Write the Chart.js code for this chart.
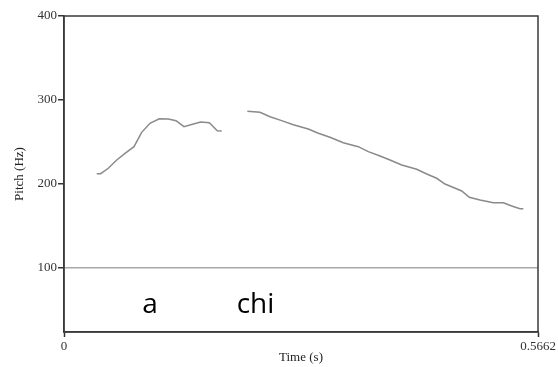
<!DOCTYPE html>
<html>
<head>
<meta charset="utf-8">
<script src="https://cdn.jsdelivr.net/npm/chart.js@4"></script>
<style>
  html, body { margin: 0; padding: 0; background: #fff; }
  #wrap { width: 558px; height: 367px; }
</style>
</head>
<body>
<div id="wrap"><canvas id="c" width="558" height="367"></canvas></div>
<script>
// ---- data ----
const seg1Time  = [0.0391,0.0438,0.0529,0.0630,0.0729,0.0836,0.0928,0.1027,0.1138,0.1246,0.1338,0.1433,0.1545,0.1633,0.1736,0.1831,0.1884];
const seg1Pitch = [212.3,212.3,218.7,228.6,236.5,244.4,261.5,272.3,277.7,277.4,275.4,268.2,271.4,273.8,273.0,263.5,263.1];
const seg2Time  = [0.2190,0.2341,0.2461,0.2600,0.2739,0.2918,0.3038,0.3177,0.3336,0.3515,0.3635,0.3775,0.3894,0.4034,0.4213,0.4333,0.4452,0.4551,0.4631,0.4751,0.4841,0.4969,0.5128,0.5248,0.5348,0.5447,0.5487];
const seg2Pitch = [286.5,285.4,280.1,275.4,270.6,265.5,260.4,255.6,249.2,244.4,238.5,233.3,228.6,222.6,217.5,211.9,206.8,200.0,196.8,191.7,184.2,181.0,177.7,177.7,173.8,170.6,170.6];
const xTickValues = [0, 0.5662];
const xTickLabels = ['0', '0.5662'];
const yTickValues = [100, 200, 300, 400];
const yTickLabels = ['100', '200', '300', '400'];
const syllables   = ['a', 'chi'];
const syllableTime = [0.1027, 0.2287];
const syllableHz   = [46.4, 46.4];

const toPts = (xs, ys) => xs.map((x, i) => ({ x: x, y: ys[i] }));

const frame = {
  id: 'frame',
  afterDatasetsDraw(chart) {
    const a = chart.chartArea, ctx = chart.ctx;
    ctx.save();
    ctx.strokeStyle = '#3a3a3a';
    ctx.lineWidth = 1.5;
    ctx.strokeRect(a.left, a.top, a.right - a.left, a.bottom - a.top);
    // syllable labels
    ctx.fillStyle = '#000';
    ctx.font = '28px "Open Sans"';
    ctx.textAlign = 'center';
    ctx.textBaseline = 'alphabetic';
    const xs = chart.scales.x, ys = chart.scales.y;
    syllables.forEach((s, i) => {
      ctx.fillText(s, xs.getPixelForValue(syllableTime[i]), ys.getPixelForValue(syllableHz[i]));
    });
    ctx.restore();
  }
};

const serif = { family: '"Liberation Serif", "Times New Roman", serif', size: 13 };

new Chart(document.getElementById('c'), {
  type: 'scatter',
  data: {
    datasets: [
      { data: toPts(seg1Time, seg1Pitch), showLine: true, borderColor: '#8a8a8a', borderWidth: 1.5, pointRadius: 0, tension: 0 },
      { data: toPts(seg2Time, seg2Pitch), showLine: true, borderColor: '#8a8a8a', borderWidth: 1.5, pointRadius: 0, tension: 0 }
    ]
  },
  options: {
    responsive: false,
    animation: false,
    devicePixelRatio: 1,
    layout: { padding: { left: 0, top: 16, right: 20, bottom: 0 } },
    plugins: { legend: { display: false }, tooltip: { enabled: false } },
    scales: {
      x: {
        type: 'linear', min: 0, max: 0.5662,
        afterBuildTicks: s => { s.ticks = xTickValues.map(v => ({ value: v })); },
        afterFit: s => { s.height = 35; },
        ticks: { callback: (v, i) => xTickLabels[i], color: '#333', font: serif, padding: 2, maxRotation: 0, autoSkip: false },
        grid: { drawOnChartArea: false, drawTicks: true, tickLength: 5, tickColor: '#333', tickWidth: 1.5 },
        border: { display: true, color: '#3a3a3a', width: 1.5 },
        title: { display: true, text: 'Time (s)', color: '#222', font: serif, padding: { top: 0, bottom: 2 } }
      },
      y: {
        type: 'linear', min: 23.8, max: 400,
        afterBuildTicks: s => { s.ticks = yTickValues.map(v => ({ value: v })); },
        afterFit: s => { s.width = 64; },
        ticks: { callback: (v, i) => yTickLabels[i], color: '#333', font: serif, padding: 1 },
        grid: {
          drawOnChartArea: true, drawTicks: true, tickLength: 6,
          color: c => (c.tick && c.tick.value === 100) ? '#a8a8a8' : 'rgba(0,0,0,0)',
          lineWidth: 1.5, tickColor: '#333', tickWidth: 1.5
        },
        border: { display: true, color: '#3a3a3a', width: 1.5 },
        title: { display: true, text: 'Pitch (Hz)', color: '#222', font: serif, padding: { top: 12, bottom: 0 } }
      }
    }
  },
  plugins: [frame]
});
</script>
</body>
</html>
